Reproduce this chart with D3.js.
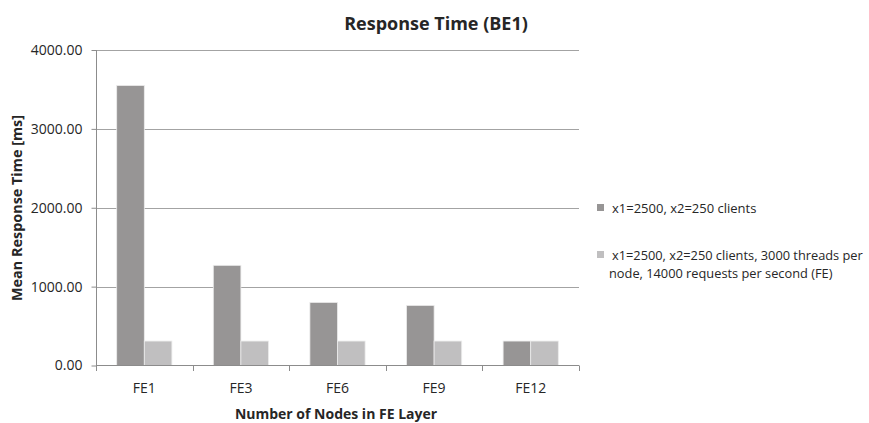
<!DOCTYPE html>
<html>
<head>
<meta charset="utf-8">
<script src="https://cdn.jsdelivr.net/npm/d3@7"></script>
<style>
  html, body { margin: 0; padding: 0; background: #fff; }
  svg text { font-family: "Open Sans", "Liberation Sans", sans-serif; fill: #262626; }
</style>
</head>
<body>
<svg id="chart" width="869" height="423"></svg>
<script>
const categories = ["FE1", "FE3", "FE6", "FE9", "FE12"];
const seriesNames = [
  "x1=2500, x2=250 clients",
  "x1=2500, x2=250 clients, 3000 threads per node, 14000 requests per second (FE)"
];
const series1 = [3550, 1270, 800, 762, 310];
const series2 = [310, 310, 310, 310, 310];
const yTicks = [0, 1000, 2000, 3000, 4000];
const colors = ["#979595", "#c0bfc0"];

const svg = d3.select("#chart");

const x0 = d3.scaleBand().domain(categories).range([96, 579]).padding(0);
const x1 = d3.scaleBand().domain([0, 1]).range([0, x0.bandwidth()]).paddingInner(0).paddingOuter(0.75);
const y = d3.scaleLinear().domain([0, 4000]).range([365.5, 50]);

// gridlines
svg.append("g").selectAll("line").data(yTicks.filter(d => d > 0)).join("line")
  .attr("x1", 96).attr("x2", 579)
  .attr("y1", d => Math.round(y(d)) + 0.5).attr("y2", d => Math.round(y(d)) + 0.5)
  .attr("stroke", "#a3a3a3").attr("stroke-width", 1);

// bars
const data = categories.map((c, i) => ({ c, vals: [series1[i], series2[i]] }));
const g = svg.append("g");
g.selectAll("g").data(data).join("g")
  .attr("transform", d => `translate(${x0(d.c)},0)`)
  .selectAll("rect").data(d => d.vals.map((v, k) => ({ v, k }))).join("rect")
  .attr("x", d => x1(d.k)).attr("width", x1.bandwidth())
  .attr("y", d => y(d.v)).attr("height", d => y(0) - y(d.v))
  .attr("fill", d => colors[d.k])
  .attr("stroke", "#ececec").attr("stroke-width", 0.8);

// y axis
const yAxis = d3.axisLeft(y).tickValues(yTicks).tickFormat(d3.format(".2f")).tickSize(5).tickPadding(9);
const ya = svg.append("g").attr("transform", "translate(96.5,0)").call(yAxis);
ya.select(".domain").attr("stroke", "#8c8c8c").attr("d", "M0,50V365.5");
ya.selectAll(".tick line").attr("stroke", "#8c8c8c");
ya.selectAll(".tick text").style("font-size", "14px").attr("fill", "#262626");

// x axis
const xAxis = d3.axisBottom(x0).tickSize(0).tickPadding(18);
const xa = svg.append("g").attr("transform", "translate(0,365.5)").call(xAxis);
xa.select(".domain").attr("stroke", "#8c8c8c").attr("d", "M96,0H579");
xa.selectAll(".tick text").style("font-size", "14px").attr("fill", "#262626");
// category boundary ticks
const bounds = categories.map(c => x0(c)).concat([579]);
svg.append("g").selectAll("line").data(bounds).join("line")
  .attr("x1", d => Math.round(d) + 0.5).attr("x2", d => Math.round(d) + 0.5)
  .attr("y1", 365.5).attr("y2", 371)
  .attr("stroke", "#8c8c8c");

// title
svg.append("text").attr("x", 436).attr("y", 30).attr("text-anchor", "middle")
  .style("font-size", "18px").style("font-weight", "bold").text("Response Time (BE1)");

// axis titles
svg.append("text").attr("x", 336).attr("y", 419).attr("text-anchor", "middle")
  .style("font-size", "14px").style("font-weight", "bold").text("Number of Nodes in FE Layer");
svg.append("text").attr("transform", "translate(22,208) rotate(-90)").attr("text-anchor", "middle")
  .style("font-size", "14.4px").style("font-weight", "bold").text("Mean Response Time [ms]");

// legend
const legend = svg.append("g");
legend.append("rect").attr("x", 597).attr("y", 204).attr("width", 7).attr("height", 7).attr("fill", colors[0]);
legend.append("text").attr("x", 612).attr("y", 212.5).style("font-size", "13px").text(seriesNames[0]);
legend.append("rect").attr("x", 597).attr("y", 251).attr("width", 7).attr("height", 7).attr("fill", colors[1]);
legend.append("text").attr("x", 612).attr("y", 259.5).style("font-size", "12.8px")
  .text("x1=2500, x2=250 clients, 3000 threads per");
legend.append("text").attr("x", 609).attr("y", 277.5).style("font-size", "12.8px")
  .text("node, 14000 requests per second (FE)");
</script>
</body>
</html>
